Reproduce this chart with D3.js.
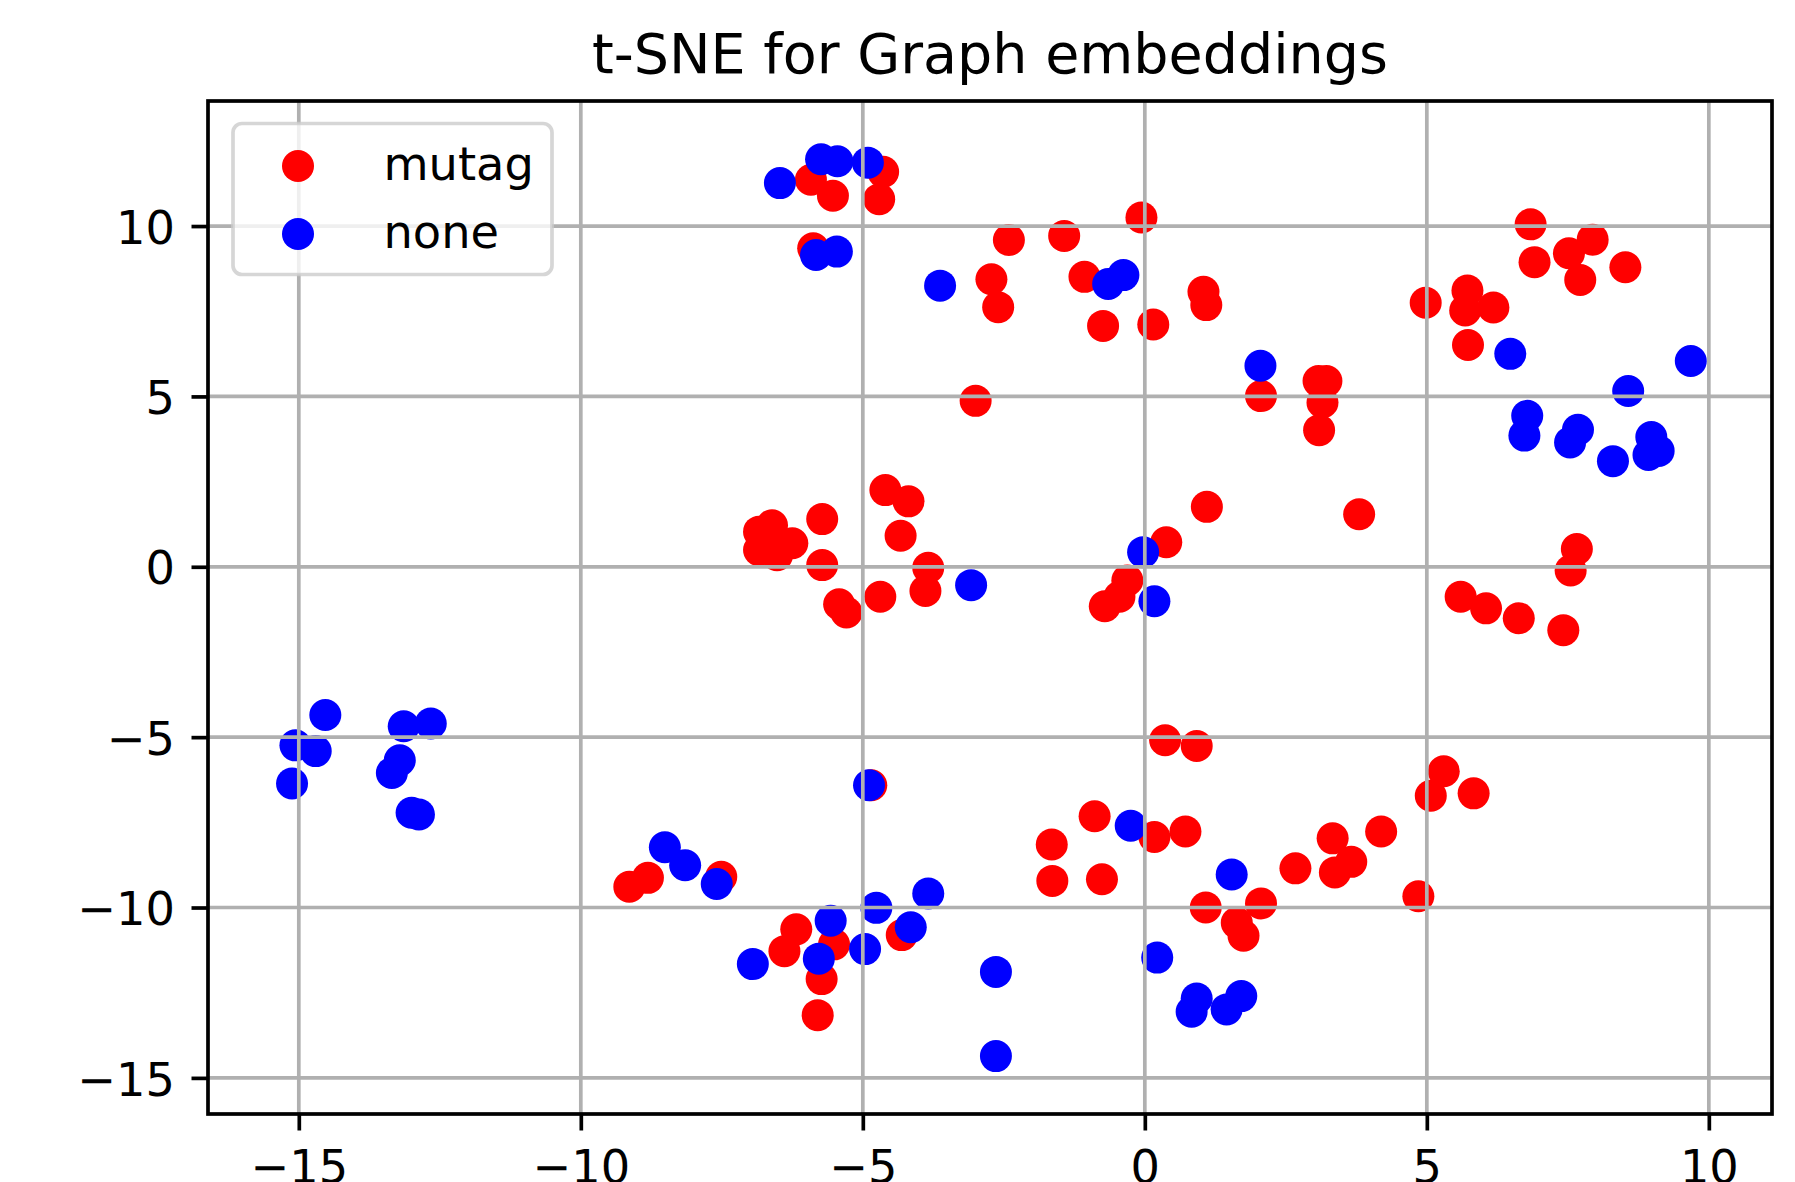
<!DOCTYPE html>
<html>
<head>
<meta charset="utf-8">
<script src="https://cdn.jsdelivr.net/npm/d3@7"></script>
<style>
  body { margin: 0; background: #fff; }
  svg { display: block; font-family: "DejaVu Sans", sans-serif; }
</style>
</head>
<body>
<svg id="plot" width="1795" height="1182"></svg>
<script>
let svg = d3.select("#plot")

// t-SNE coordinates
let mutag_x = [-5.92,-5.53,-4.64,-4.71,-5.88,-2.72,-2.60,-2.41,-1.43,-0.06,-1.07,-0.74,0.15,1.04,1.09,2.06,3.08,3.22,3.15,3.09,
  -3.00,-4.60,-4.19,-5.72,-4.33,-5.72,-6.25,-6.84,-6.61,-6.84,-6.52,-3.84,-3.89,-4.69,-5.42,-5.29,1.10,3.80,0.38,-0.31,
  -0.45,-0.71,7.66,7.55,5.60,6.05,6.63,7.42,6.84,7.94,7.52,6.91,8.52,7.72,4.98,5.72,5.68,6.18,5.73,0.36,
  0.92,5.30,5.07,5.83,-4.85,-0.89,0.17,0.72,-1.65,-1.64,-0.76,1.08,2.06,1.63,1.75,2.67,3.33,3.66,3.37,4.19,
  4.85,-9.14,-8.81,-7.51,-6.18,-6.39,-5.51,-5.73,-5.80,-4.31]
let mutag_y = [11.36,10.89,11.59,10.79,9.35,8.44,7.62,9.59,9.71,10.25,8.51,7.07,7.11,8.07,7.68,5.01,5.45,5.45,4.82,4.01,
  4.87,2.25,1.92,1.40,0.91,0.05,0.69,1.03,1.22,0.49,0.34,-0.03,-0.71,-0.88,-1.10,-1.34,1.76,1.54,0.72,-0.40,
  -0.88,-1.16,0.52,-0.11,-0.88,-1.22,-1.51,-1.86,10.05,9.60,9.20,8.94,8.79,8.42,7.75,8.11,7.52,7.61,6.51,-5.09,
  -5.26,-6.00,-6.72,-6.65,-6.41,-7.32,-7.93,-7.77,-8.15,-9.22,-9.17,-10.00,-9.88,-10.45,-10.83,-8.85,-7.97,-8.66,-8.97,-7.77,
  -9.67,-9.39,-9.13,-9.10,-10.64,-11.28,-11.08,-12.10,-13.16,-10.81]

let none_x = [-6.47,-5.74,-5.45,-4.91,-5.83,-5.46,-3.63,-0.65,-0.38,2.05,6.48,9.68,8.57,6.78,6.73,7.68,7.54,8.30,8.98,9.11,
  8.93,-3.08,-0.03,0.17,-14.53,-15.06,-14.70,-15.12,-13.14,-12.66,-13.21,-13.35,-13.00,-12.87,-4.89,-8.51,-8.15,-7.59,-6.95,-5.57,
  -5.78,-4.76,-4.96,-4.15,-3.84,-2.64,-2.64,-0.25,1.54,0.22,0.92,0.83,1.45,1.71]
let none_y = [11.26,11.96,11.90,11.86,9.15,9.25,8.25,8.30,8.56,5.90,6.25,6.04,5.16,4.43,3.85,4.02,3.65,3.10,3.81,3.40,
  3.28,-0.54,0.43,-1.01,-4.35,-5.24,-5.41,-6.36,-4.68,-4.60,-5.68,-6.05,-7.22,-7.27,-6.41,-8.23,-8.76,-9.31,-11.66,-10.39,
  -11.50,-10.01,-11.22,-10.58,-9.59,-11.89,-14.36,-7.60,-9.03,-11.47,-12.67,-13.06,-12.99,-12.60]

let labels = ["mutag", "none"]
let colors = ["red", "blue"]
let x_ticks = [-15, -10, -5, 0, 5, 10]
let y_ticks = [-15, -10, -5, 0, 5, 10]

let margin_left = 208, margin_right = 1772, margin_top = 101, margin_bottom = 1114;
let lw = 3.7, r = 16, tick_len = 16.5, font_size = 46.3;

let x_scale = d3.scaleLinear([-16.61, 11.12], [margin_left, margin_right])
let y_scale = d3.scaleLinear([-16.06, 13.67], [margin_bottom, margin_top])

let series = [
  {label: labels[0], color: colors[0], pts: mutag_x.map((x, i) => [x, mutag_y[i]])},
  {label: labels[1], color: colors[1], pts: none_x.map((x, i) => [x, none_y[i]])}
]

// points (mutag first, none on top)
let gDot = svg.append("g")
series.forEach(s => {
  gDot.append("g").selectAll("circle")
    .data(s.pts)
    .join("circle")
    .attr("cx", d => x_scale(d[0]))
    .attr("cy", d => y_scale(d[1]))
    .attr("r", r)
    .attr("fill", s.color)
})

// grid drawn over the points, like matplotlib's default zorder
let grid = svg.append("g").attr("stroke", "#b0b0b0").attr("stroke-width", lw)
grid.selectAll(".gx").data(x_ticks).join("line")
  .attr("x1", d => x_scale(d)).attr("x2", d => x_scale(d))
  .attr("y1", margin_top).attr("y2", margin_bottom)
grid.selectAll(".gy").data(y_ticks).join("line")
  .attr("y1", d => y_scale(d)).attr("y2", d => y_scale(d))
  .attr("x1", margin_left).attr("x2", margin_right)

// axes
let xAxis = d3.axisBottom(x_scale).tickValues(x_ticks).tickSize(tick_len).tickSizeOuter(0)
let yAxis = d3.axisLeft(y_scale).tickValues(y_ticks).tickSize(tick_len).tickSizeOuter(0)

let gx = svg.append("g")
  .attr("transform", `translate(0,${margin_bottom})`)
  .call(xAxis)
gx.select(".domain").remove()
gx.selectAll(".tick line").attr("stroke", "#000").attr("stroke-width", lw)
gx.selectAll(".tick text")
  .attr("y", 69).attr("dy", null)
  .attr("font-size", font_size).attr("font-family", "DejaVu Sans").attr("fill", "#000")

let gy = svg.append("g")
  .attr("transform", `translate(${margin_left},0)`)
  .call(yAxis)
gy.select(".domain").remove()
gy.selectAll(".tick line").attr("stroke", "#000").attr("stroke-width", lw)
gy.selectAll(".tick text")
  .attr("x", -33).attr("dy", "0.37em")
  .attr("font-size", font_size).attr("font-family", "DejaVu Sans").attr("fill", "#000")

// frame
svg.append("rect")
  .attr("x", margin_left).attr("y", margin_top)
  .attr("width", margin_right - margin_left).attr("height", margin_bottom - margin_top)
  .attr("fill", "none").attr("stroke", "#000").attr("stroke-width", lw)

// title
svg.append("text")
  .attr("x", (margin_left + margin_right) / 2).attr("y", 73)
  .attr("text-anchor", "middle")
  .attr("font-size", 55.5)
  .text("t-SNE for Graph embeddings")

// legend
let leg = svg.append("g")
leg.append("rect")
  .attr("x", 233).attr("y", 123.5).attr("width", 319).attr("height", 151).attr("rx", 9)
  .attr("fill", "rgba(255,255,255,0.8)").attr("stroke", "rgba(204,204,204,0.8)").attr("stroke-width", lw)
let items = leg.selectAll(".item").data(series).join("g")
  .attr("transform", (d, i) => `translate(0,${166 + i * 68})`)
items.append("circle").attr("cx", 298).attr("cy", 0).attr("r", r).attr("fill", d => d.color)
items.append("text").attr("x", 383.5).attr("y", 14).attr("font-size", font_size).text(d => d.label)
</script>
</body>
</html>
